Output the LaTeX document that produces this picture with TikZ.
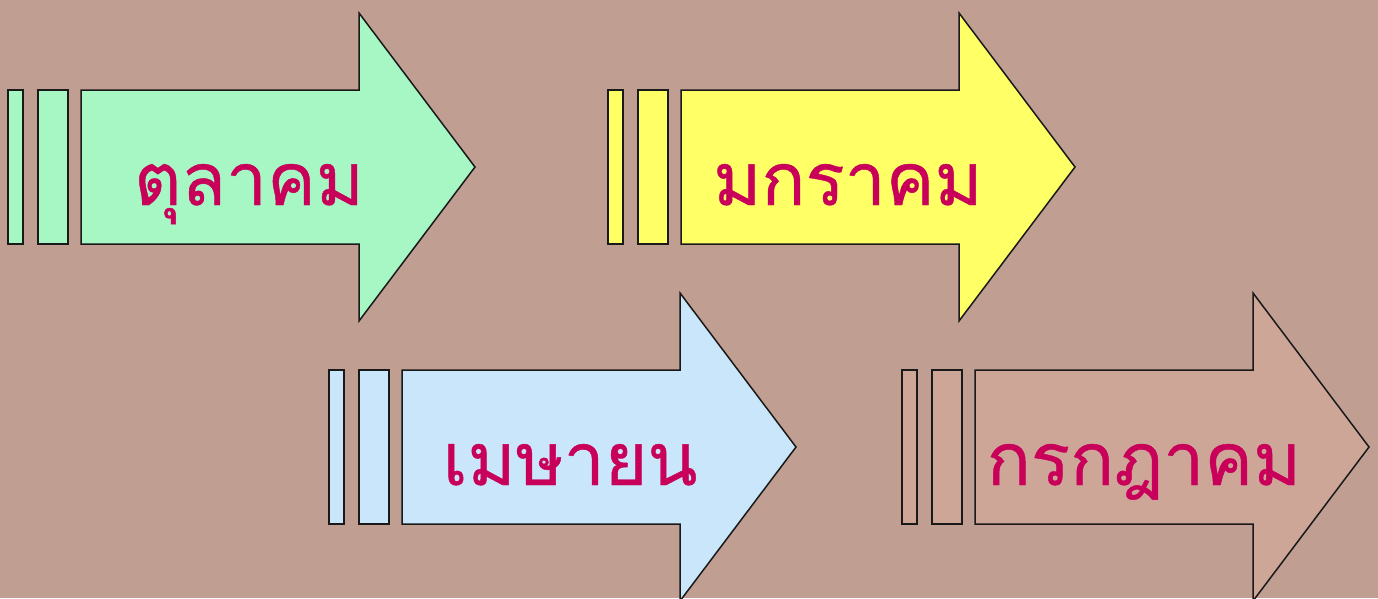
\documentclass[tikz,border=0pt]{standalone}
\usepackage{fontspec}
\newfontfamily\thaifont[Script=Thai,FakeBold=0.6]{Loma}
\definecolor{bgc}{RGB}{192,158,146}
\definecolor{greenf}{RGB}{166,247,196}
\definecolor{yellowf}{RGB}{255,255,102}
\definecolor{bluef}{RGB}{202,230,250}
\definecolor{brownf}{RGB}{205,166,152}
\definecolor{txtc}{RGB}{200,0,90}
\tikzset{
  arrowline/.style={draw=black!90, line width=1.5pt, line join=miter},
  lbl/.style={anchor=base, text=txtc, font=\thaifont\fontsize{73}{80}\selectfont, inner sep=0pt},
}
\newcommand\mystripedarrow[3]{%
  \begin{scope}[shift={(#1,#2)}]
    \path[arrowline, fill=#3] (0,-77) rectangle (15,77);
    \path[arrowline, fill=#3] (30,-77) rectangle (60,77);
    \path[arrowline, fill=#3] (73,-77) -- (351,-77) -- (351,-154) -- (467,0)
      -- (351,154) -- (351,77) -- (73,77) -- cycle;
  \end{scope}}
\begin{document}
\begin{tikzpicture}[x=1pt,y=-1pt]
\fill[bgc] (0,0) rectangle (1378,598);
\useasboundingbox (0,0) rectangle (1378,598);
\mystripedarrow{8}{167}{greenf}
\mystripedarrow{608}{167}{yellowf}
\mystripedarrow{329}{447}{bluef}
\mystripedarrow{902}{447}{brownf}
\node[lbl] (t1) at (249,205) {ตุลาคม};
\node[lbl] (t2) at (848,205) {มกราคม};
\node[lbl] (t3) at (570,485) {เมษายน};
\node[lbl] (t4) at (1144,485) {กรกฎาคม};
\end{tikzpicture}
\end{document}
